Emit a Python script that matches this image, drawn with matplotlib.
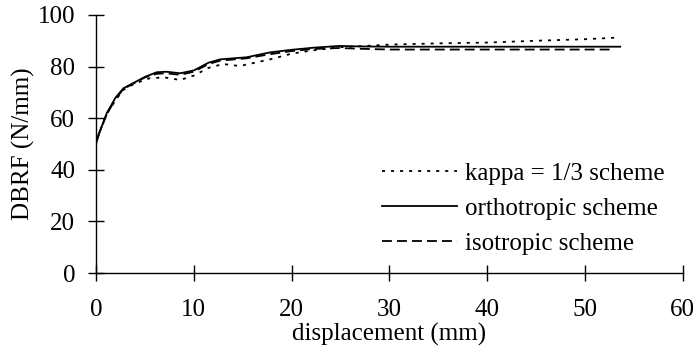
import matplotlib.pyplot as plt

plt.rcParams['font.family'] = ['Liberation Serif', 'DejaVu Serif']

# displacement (mm) and DBRF (N/mm)
x_kappa = [0, 0, 0.3, 1.0, 2.0, 2.8, 4.0, 5.5, 7.0, 8.6, 10.0, 11.5, 13.0, 14.7, 16.0, 17.8, 20.0, 22.0, 25.0, 30.0, 35.0, 40.0, 45.0, 50.0, 53.2]
y_kappa = [0, 50, 54, 61, 67, 71, 73.5, 75.5, 75.8, 74.8, 76.5, 79.5, 81.0, 80.2, 81.3, 82.8, 85.0, 86.2, 87.5, 88.5, 89.0, 89.3, 90.0, 90.6, 91.2]

x_ortho = [0, 0, 0.3, 1.1, 2.0, 2.8, 4.0, 5.0, 6.2, 7.2, 8.6, 10.0, 11.5, 12.7, 15.4, 17.8, 20.0, 22.2, 24.9, 27.0, 30.0, 40.0, 50.0, 53.6]
y_ortho = [0, 50, 54, 62, 68, 71.6, 74, 76, 77.8, 78, 77.4, 78.5, 81.5, 82.8, 83.6, 85.5, 86.5, 87.3, 88.0, 87.8, 87.7, 87.7, 87.7, 87.7]

x_iso = [0, 0, 0.3, 1.1, 2.0, 2.8, 4.0, 5.0, 6.2, 7.2, 8.6, 10.0, 11.5, 12.7, 15.4, 17.8, 20.0, 22.2, 24.9, 27.0, 30.0, 40.0, 50.0, 52.9]
y_iso = [0, 50, 54, 61.5, 67.5, 71.3, 73.8, 75.8, 77.2, 77.4, 76.8, 78.0, 81.0, 82.3, 83.2, 84.8, 86.0, 86.8, 87.2, 86.9, 86.6, 86.6, 86.6, 86.6]

fig = plt.figure(figsize=(6.96, 3.56), dpi=100)
ax = fig.add_axes([0.138, 0.233, 0.843, 0.725])

lw = 1.3
ax.plot(x_kappa, y_kappa, color='black', linestyle=(0, (1.7, 3.3)), linewidth=lw, label='kappa = 1/3 scheme')
ax.plot(x_ortho, y_ortho, color='black', linestyle='-', linewidth=lw, label='orthotropic scheme')
ax.plot(x_iso, y_iso, color='black', linestyle=(0, (5.5, 2.8)), linewidth=lw, label='isotropic scheme')

ax.set_xlim(0, 60)
ax.set_ylim(0, 100)
ax.set_xticks(range(0, 61, 10))
ax.set_yticks(range(0, 101, 20))
ax.set_xlabel('displacement (mm)', fontsize=18, labelpad=1)
ax.set_ylabel('DBRF (N/mm)', fontsize=18, labelpad=2)
ax.tick_params(direction='inout', length=12, width=1, labelsize=18)
ax.tick_params(axis='x', pad=13)
ax.tick_params(axis='y', pad=9)

for side in ['top', 'right']:
    ax.spines[side].set_visible(False)
for side in ['left', 'bottom']:
    ax.spines[side].set_linewidth(1)

ax.legend(loc='lower left', bbox_to_anchor=(0.488, 0.07), frameon=False, fontsize=18,
          handlelength=3.0, handletextpad=0.3, labelspacing=0.5, borderaxespad=0, borderpad=0)

plt.savefig('out.png', dpi=100)
